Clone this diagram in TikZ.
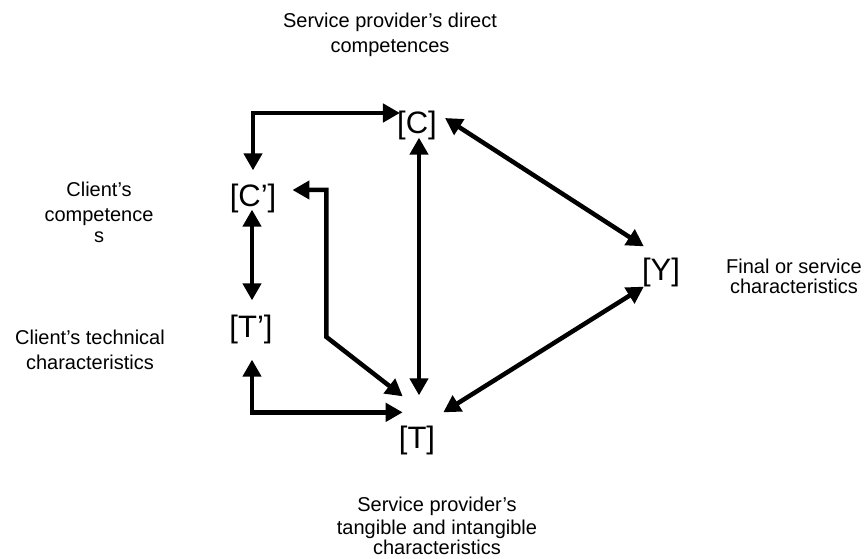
\documentclass[tikz,border=0pt]{standalone}
\usepackage{fontspec}
\setmainfont{Liberation Sans}
\usetikzlibrary{arrows.meta}
\begin{document}
\begin{tikzpicture}[x=1bp,y=-1bp,
    var/.style={inner sep=0pt,font=\fontsize{31bp}{36bp}\selectfont},
    lbl/.style={inner sep=0pt,align=center,font=\fontsize{20bp}{25bp}\selectfont},
    link/.style={line width=4.5bp,{Triangle[length=17bp,width=18bp]}-{Triangle[length=17bp,width=18bp]}}]
    \useasboundingbox (0,0) rectangle (867,559);
    \node[var] (C)  at (417,125) {[C]};
    \node[var] (Cp) at (253,198) {[C']};
    \node[var] (Tp) at (251,329) {[T']};
    \node[var] (T)  at (417,440) {[T]};
    \node[var] (Y)  at (661,272) {[Y]};
    \node[lbl] (lC)  at (390,35)  {Service provider's direct\\competences};
    \node[lbl] (lCp) at (99,212)  {Client's\\competence\\[-4bp]s};
    \node[lbl] (lTp) at (90,350)  {Client's technical\\characteristics};
    \node[lbl] (lY)  at (794,276) {Final or service\\[-5bp]characteristics};
    \node[lbl] (lT)  at (437,526) {Service provider's\\[-2bp]tangible and intangible\\[-5bp]characteristics};
    \draw[link] ([shift={(0,-13)}]Cp.north) |- ([shift={(3,-12)}]C.west);
    \draw[link] ([shift={(2,-2)}]C.south) -- ([shift={(2,-30)}]T.north);
    \draw[link] ([shift={(8,-7)}]C.east) -- ([shift={(2,-11)}]Y.north west);
    \draw[link] ([shift={(2,0)}]Y.south west) -- ([shift={(8,-13)}]T.north east);
    \draw[link] ([shift={(-1,-3)}]Cp.south) -- ([shift={(1,-14)}]Tp.north);
    \draw[link] ([shift={(1,16)}]Tp.south) |- ([shift={(4,-13)}]T.north west);
    \draw[link] ([shift={(16,-8)}]Cp.east) -| ++(34,147) -- ([shift={(4,-29)}]T.north west);
\end{tikzpicture}
\end{document}
